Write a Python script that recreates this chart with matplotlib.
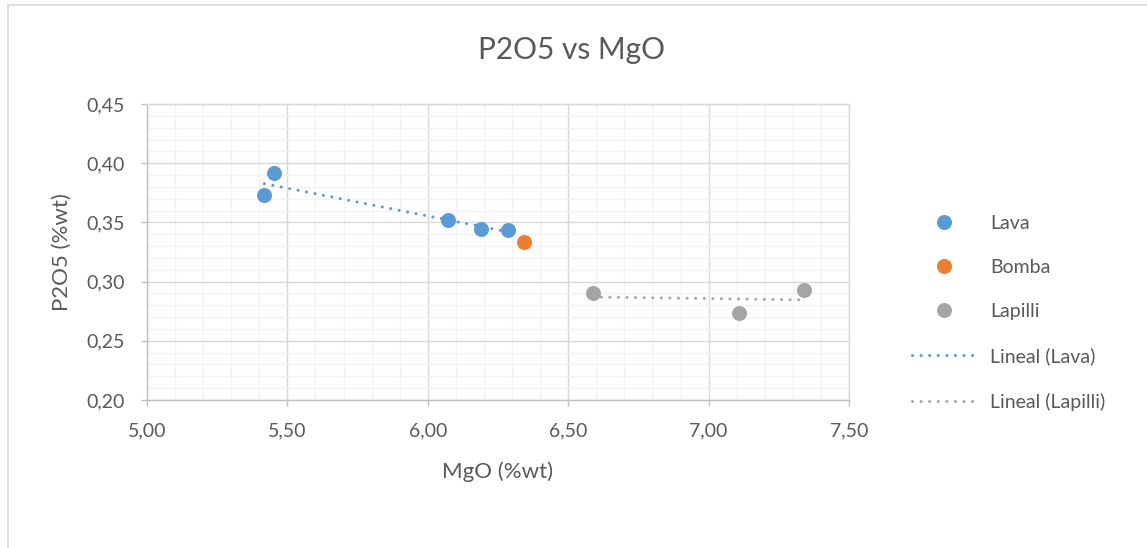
import numpy as np
import matplotlib
matplotlib.use("Agg")
import matplotlib.pyplot as plt
from matplotlib.ticker import MultipleLocator, FuncFormatter
from matplotlib.patches import Rectangle

plt.rcParams['font.family'] = ['Lato', 'DejaVu Sans']

# muestras: MgO (%wt) y P2O5 (%wt)
lava_mgo = [5.418, 5.453, 6.073, 6.188, 6.287]
lava_p2o5 = [0.373, 0.3915, 0.352, 0.3444, 0.3436]
bomba_mgo = [6.343]
bomba_p2o5 = [0.3332]
lapilli_mgo = [6.587, 7.108, 7.340]
lapilli_p2o5 = [0.2906, 0.2737, 0.2926]

c_lava = '#5B9BD5'
c_bomba = '#ED7D31'
c_lapilli = '#A5A5A5'
c_text = '#595959'

W, H = 1147, 548
fig = plt.figure(figsize=(W / 100, H / 100), dpi=100)
ax = fig.add_axes([147 / W, (H - 400) / H, 702 / W, 296 / H])

# lineas de tendencia (ajuste lineal)
def trend(x, y):
    m, b = np.polyfit(x, y, 1)
    xs = np.array([min(x), max(x)])
    return xs, m * xs + b

lw_t = 2.2
tx, ty = trend(lava_mgo, lava_p2o5)
l_lava, = ax.plot(tx, ty, color=c_lava, lw=lw_t, dashes=(0.01, 2.8),
                  dash_capstyle='round', zorder=3)
tx, ty = trend(lapilli_mgo, lapilli_p2o5)
l_lap, = ax.plot(tx, ty, color=c_lapilli, lw=lw_t, dashes=(0.01, 2.8),
                 dash_capstyle='round', zorder=3)

ms = 10.8
p_lava, = ax.plot(lava_mgo, lava_p2o5, 'o', color=c_lava, ms=ms, mew=0, zorder=4)
p_bomba, = ax.plot(bomba_mgo, bomba_p2o5, 'o', color=c_bomba, ms=ms, mew=0, zorder=4)
p_lap, = ax.plot(lapilli_mgo, lapilli_p2o5, 'o', color=c_lapilli, ms=ms, mew=0, zorder=4)

ax.set_xlim(5.0, 7.5)
ax.set_ylim(0.20, 0.45)
ax.xaxis.set_major_locator(MultipleLocator(0.5))
ax.xaxis.set_minor_locator(MultipleLocator(0.1))
ax.yaxis.set_major_locator(MultipleLocator(0.05))
ax.yaxis.set_minor_locator(MultipleLocator(0.01))
fmt = FuncFormatter(lambda v, p: f"{v:.2f}".replace('.', ','))
ax.xaxis.set_major_formatter(fmt)
ax.yaxis.set_major_formatter(fmt)

ax.grid(which='major', color='#D9D9D9', lw=1.0, zorder=1)
ax.grid(which='minor', color='#F2F2F2', lw=1.0, zorder=0)
ax.set_axisbelow(True)

for s in ['top', 'right']:
    ax.spines[s].set_color('#D9D9D9')
    ax.spines[s].set_linewidth(1.0)
for s in ['left', 'bottom']:
    ax.spines[s].set_color('#BFBFBF')
    ax.spines[s].set_linewidth(1.0)

ax.tick_params(which='major', direction='out', length=4.5, width=1.0,
               color='#BFBFBF', labelsize=14, labelcolor=c_text, pad=11.5)
ax.tick_params(which='minor', length=0)

# titulos
fig.text(571 / W, (H - 59.3) / H, 'P2O5 vs MgO', fontsize=21.5, color=c_text,
         ha='center', va='baseline')
fig.text(498 / W, (H - 478) / H, 'MgO (%wt)', fontsize=16, color=c_text,
         ha='center', va='baseline')
fig.text(68.3 / W, (H - 252) / H, 'P2O5 (%wt)', fontsize=16, color=c_text,
         ha='center', va='baseline', rotation=90, rotation_mode='anchor')

fig.legend([p_lava, p_bomba, p_lap, l_lava, l_lap],
           ['Lava', 'Bomba', 'Lapilli', 'Lineal (Lava)', 'Lineal (Lapilli)'],
           loc='center left', bbox_to_anchor=(912 / W, (H - 312.6) / H),
           frameon=False, borderpad=0, borderaxespad=0, fontsize=14,
           handlelength=3.25, handletextpad=0.77, labelspacing=1.4,
           labelcolor=c_text)

# borde del grafico
fig.patches.append(Rectangle((8 / W, -0.05), 1.1, (H - 5) / H + 0.05,
                             transform=fig.transFigure, fill=False,
                             edgecolor='#D9D9D9', lw=1.2))

fig.savefig('out.png', dpi=100)
